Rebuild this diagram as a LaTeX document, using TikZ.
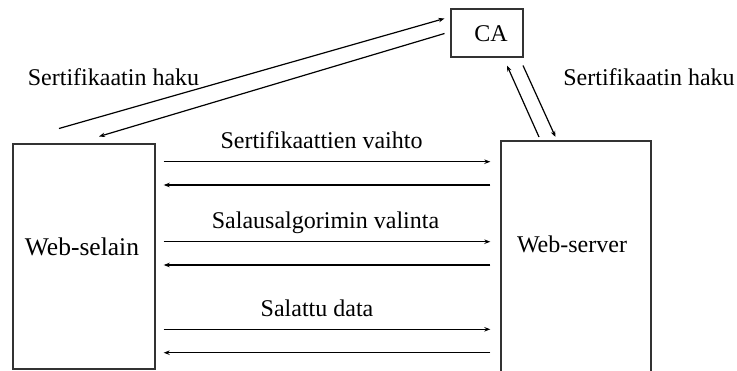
\documentclass[tikz,border=0pt]{standalone}
\usepackage{fontspec}
\setmainfont{Liberation Serif}
\usetikzlibrary{arrows.meta}
\begin{document}
\begin{tikzpicture}[x=1pt,y=-1pt,
  box/.style={draw=black!80,line width=1.4pt,inner sep=0pt,fill=none},
  lbl/.style={font=\fontsize{24}{28}\selectfont,inner sep=0pt,anchor=base},
  arr/.style={line width=1.2pt,-{Stealth[length=6pt,width=4.5pt]}},
  ln/.style={line width=1.2pt}]
\useasboundingbox (0,0) rectangle (737,370);
% boxes
\node[box,minimum width=142,minimum height=225] (selain) at (84,256.5) {};
\node[box,minimum width=150,minimum height=240] (server) at (576,261) {};
\node[box,minimum width=72,minimum height=48] (ca) at (487,33) {};
% box texts
\node[lbl,font=\fontsize{25.5}{30}\selectfont] (selainlbl) at (82,255.5) {Web-selain};
\node[lbl] (serverlbl) at (572,252.5) {Web-server};
\node[lbl] (calbl) at (491,41) {CA};
% arrow labels
\node[lbl] (hakuL) at (113.5,85) {Sertifikaatin haku};
\node[lbl] (hakuR) at (649,85) {Sertifikaatin haku};
\node[lbl] (vaihto) at (321.5,148.5) {Sertifikaattien vaihto};
\node[lbl] (valinta) at (325.5,228.5) {Salausalgorimin valinta};
\node[lbl] (data) at (317,316.5) {Salattu data};
% endpoints of diagonal connectors
\coordinate (b1) at (59,128.5);
\coordinate (c1) at (444.5,18.5);
\coordinate (c2) at (444.5,33.5);
\coordinate (b2) at (99,136.5);
\coordinate (s1) at (539,137);
\coordinate (c3) at (507,65.5);
\coordinate (c4) at (523,65.5);
\coordinate (s2) at (555.5,137);
\draw[arr] (b1) -- (c1);
\draw[arr] (c2) -- (b2);
\draw[arr] (s1) -- (c3);
\draw[arr] (c4) -- (s2);
% horizontal connectors
\foreach \yr/\yl in {161.7/185,241.7/265,329.3/352.7}{
  \draw[arr,shorten <=8pt,shorten >=10pt] (selain.east |- 0,\yr) -- (server.west |- 0,\yr);
  \draw[arr,shorten <=10pt,shorten >=8pt] (server.west |- 0,\yl) -- (selain.east |- 0,\yl);
}
\end{tikzpicture}
\end{document}
